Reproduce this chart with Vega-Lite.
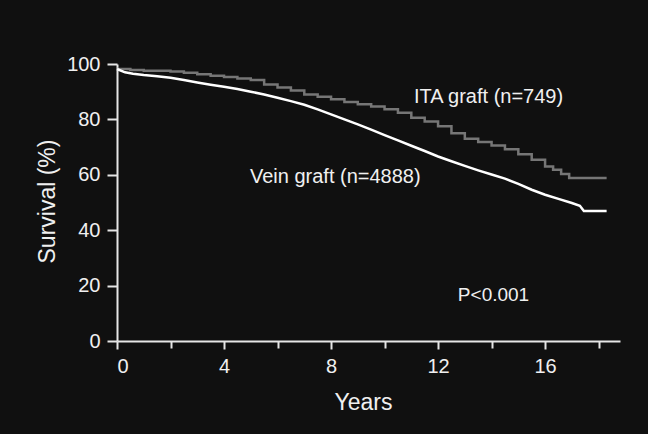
{
  "$schema": "https://vega.github.io/schema/vega-lite/v6.json",
  "width": 503,
  "height": 277,
  "autosize": {"type": "none"},
  "padding": {"left": 117, "top": 64, "right": 28, "bottom": 93},
  "background": "#101010",
  "config": {
    "view": {"stroke": null},
    "axis": {
      "domainColor": "#e6e6e6",
      "domainWidth": 2,
      "tickColor": "#e6e6e6",
      "tickWidth": 2,
      "labelColor": "#f0f0f0",
      "titleColor": "#f0f0f0",
      "labelFont": "Liberation Sans",
      "titleFont": "Liberation Sans",
      "grid": false
    }
  },
  "datasets": {
    "vein": [
      {"t": 0.0, "s": 98.2}, {"t": 0.3, "s": 97.0}, {"t": 0.6, "s": 96.5}, {"t": 1.0, "s": 96.0},
      {"t": 1.5, "s": 95.6}, {"t": 2.0, "s": 95.0}, {"t": 2.5, "s": 94.2}, {"t": 3.0, "s": 93.3},
      {"t": 3.5, "s": 92.5}, {"t": 4.0, "s": 91.8}, {"t": 4.5, "s": 91.0}, {"t": 5.0, "s": 90.0},
      {"t": 5.5, "s": 89.0}, {"t": 6.0, "s": 87.8}, {"t": 6.5, "s": 86.6}, {"t": 7.0, "s": 85.3},
      {"t": 7.5, "s": 83.6}, {"t": 8.0, "s": 81.8}, {"t": 8.5, "s": 80.0}, {"t": 9.0, "s": 78.2},
      {"t": 9.5, "s": 76.3}, {"t": 10.0, "s": 74.3}, {"t": 10.5, "s": 72.4}, {"t": 11.0, "s": 70.5},
      {"t": 11.5, "s": 68.6}, {"t": 12.0, "s": 66.6}, {"t": 12.5, "s": 64.9}, {"t": 13.0, "s": 63.2},
      {"t": 13.5, "s": 61.6}, {"t": 14.0, "s": 60.1}, {"t": 14.5, "s": 58.6}, {"t": 15.0, "s": 56.7},
      {"t": 15.5, "s": 54.6}, {"t": 16.0, "s": 52.8}, {"t": 16.5, "s": 51.3}, {"t": 17.0, "s": 49.8},
      {"t": 17.3, "s": 48.8}, {"t": 17.45, "s": 46.9}, {"t": 18.3, "s": 46.9}
    ],
    "ita": [
      {"t": 0.0, "s": 98.2}, {"t": 0.5, "s": 97.8}, {"t": 1.0, "s": 97.6}, {"t": 2.0, "s": 97.3},
      {"t": 2.5, "s": 96.8}, {"t": 3.0, "s": 96.3}, {"t": 3.5, "s": 95.8}, {"t": 4.0, "s": 95.3},
      {"t": 4.5, "s": 94.8}, {"t": 5.0, "s": 94.2}, {"t": 5.5, "s": 92.6}, {"t": 6.0, "s": 91.5},
      {"t": 6.5, "s": 90.4}, {"t": 7.0, "s": 89.0}, {"t": 7.5, "s": 88.2}, {"t": 8.0, "s": 87.3},
      {"t": 8.5, "s": 86.3}, {"t": 9.0, "s": 85.5}, {"t": 9.5, "s": 84.7}, {"t": 10.0, "s": 83.7},
      {"t": 10.5, "s": 82.4}, {"t": 11.0, "s": 80.6}, {"t": 11.5, "s": 79.2}, {"t": 12.0, "s": 77.5},
      {"t": 12.5, "s": 75.0}, {"t": 13.0, "s": 73.0}, {"t": 13.5, "s": 71.8}, {"t": 14.0, "s": 70.6},
      {"t": 14.5, "s": 69.2}, {"t": 15.0, "s": 67.4}, {"t": 15.5, "s": 65.4}, {"t": 16.0, "s": 63.0},
      {"t": 16.3, "s": 61.8}, {"t": 16.6, "s": 60.3}, {"t": 16.9, "s": 58.8}, {"t": 18.3, "s": 58.8}
    ],
    "labels": [
      {"t": 11.1, "s": 88.1, "text": "ITA graft (n=749)", "size": 20},
      {"t": 4.97, "s": 59.2, "text": "Vein graft (n=4888)", "size": 20},
      {"t": 12.74, "s": 16.6, "text": "P<0.001", "size": 19}
    ]
  },
  "layer": [
    {
      "data": {"name": "ita"},
      "mark": {"type": "line", "interpolate": "step-after", "color": "#767676", "strokeWidth": 2.5},
      "encoding": {
        "x": {
          "field": "t", "type": "quantitative",
          "scale": {"domain": [0, 18.8], "nice": false, "zero": false},
          "axis": {
            "values": [0,1,2,3,4,5,6,7,8,9,10,11,12,13,14,15,16,17,18],
            "labelExpr": "datum.value % 4 === 0 ? datum.label : ''",
            "tickSize": {"condition": {"test": "datum.value % 4 === 0", "value": 8}, "value": 7},
            "labelFontSize": 20,
            "labelPadding": 7,
            "title": "Years",
            "titleFontSize": 23,
            "titleFontWeight": "normal",
            "titleX": 246,
            "titleY": 61,
            "titleBaseline": "middle",
            "titleAlign": "center"
          }
        },
        "y": {
          "field": "s", "type": "quantitative",
          "scale": {"domain": [0, 100], "nice": false},
          "axis": {
            "values": [0,10,20,30,40,50,60,70,80,90,100],
            "labelExpr": "datum.value % 20 === 0 ? datum.label : ''",
            "tickSize": {"condition": {"test": "datum.value % 20 === 0", "value": 10}, "value": 8},
            "labelFontSize": 20,
            "labelPadding": 7,
            "title": "Survival (%)",
            "titleFontSize": 23,
            "titleFontWeight": "normal",
            "titleAngle": -90,
            "titleX": -70,
            "titleY": 137,
            "titleBaseline": "middle",
            "titleAlign": "center"
          }
        }
      }
    },
    {
      "data": {"name": "vein"},
      "mark": {"type": "line", "interpolate": "linear", "color": "#ffffff", "strokeWidth": 2.5},
      "encoding": {
        "x": {"field": "t", "type": "quantitative"},
        "y": {"field": "s", "type": "quantitative"}
      }
    },
    {
      "data": {"name": "labels"},
      "mark": {"type": "text", "align": "left", "baseline": "middle", "color": "#f0f0f0", "font": "Liberation Sans"},
      "encoding": {
        "x": {"field": "t", "type": "quantitative"},
        "y": {"field": "s", "type": "quantitative"},
        "text": {"field": "text"},
        "size": {"field": "size", "type": "quantitative", "scale": null}
      }
    }
  ]
}
